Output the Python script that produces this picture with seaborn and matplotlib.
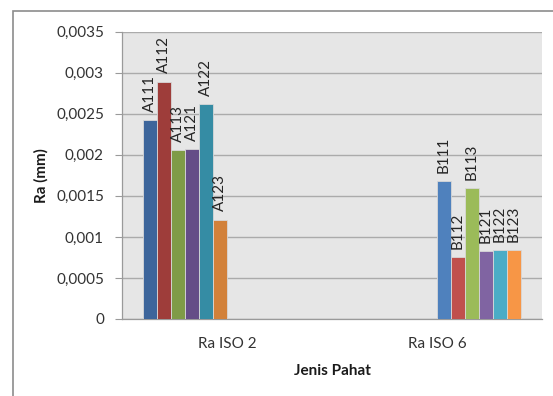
import matplotlib
matplotlib.use("Agg")
import matplotlib.pyplot as plt
from matplotlib.patches import Rectangle
import seaborn as sns
import pandas as pd

# Surface roughness per tool code, grouped by tool type
categories = ["Ra ISO 2", "Ra ISO 6"]
series = ["A111", "A112", "A113", "A121", "A122", "A123",
          "B111", "B112", "B113", "B121", "B122", "B123"]
series_category = ["Ra ISO 2"] * 6 + ["Ra ISO 6"] * 6
ra_values = [0.00242, 0.00289, 0.00206, 0.00207, 0.00262, 0.00121,
             0.00168, 0.00075, 0.00159, 0.00083, 0.00084, 0.00084]
ytick_values = [0, 0.0005, 0.001, 0.0015, 0.002, 0.0025, 0.003, 0.0035]
ytick_labels = ["0", "0,0005", "0,001", "0,0015", "0,002", "0,0025", "0,003", "0,0035"]
colors = ["#3D659B", "#9E3D3A", "#7F9B47", "#654D87", "#358CA4", "#D2813A",
          "#4F81BD", "#C0504D", "#9BBB59", "#8064A2", "#4BACC6", "#F79646"]

df = pd.DataFrame({"Jenis Pahat": series_category, "Kode": series, "Ra": ra_values})

sns.set_theme(style="white")
plt.rcParams["font.family"] = ["Lato", "DejaVu Sans"]
FS = 11

fig = plt.figure(figsize=(5.53, 3.96), dpi=100)
ax = fig.add_axes([122 / 553, 1 - 319 / 396, 420 / 553, (319 - 31.7) / 396])
ax.set_facecolor("#E6E6E6")

sns.barplot(data=df, x="Jenis Pahat", y="Ra", hue="Kode", hue_order=series,
            order=categories, palette=colors, saturation=1, width=0.8, dodge=True,
            edgecolor="#D8D8D8", linewidth=0.6, errorbar=None, legend=False, ax=ax,
            zorder=3)

# Vertical code label above each bar
for container, name in zip(ax.containers, series):
    labels = [name if bar.get_height() > 0 else "" for bar in container]
    ax.bar_label(container, labels=labels, rotation=90, padding=6,
                 fontsize=FS, color="#262626")

ax.set_ylim(0, 0.0035)
ax.set_xlim(-0.5, 1.5)
ax.set_yticks(ytick_values)
ax.set_yticklabels(ytick_labels, fontsize=FS, color="#333333")
ax.tick_params(axis="x", labelsize=FS, colors="#333333", length=0, pad=13)
ax.tick_params(axis="y", length=5, width=0.8, color="#9A9A9A", pad=8, left=True)
ax.yaxis.grid(True, color="#ABABAB", linewidth=1.0, zorder=0)
ax.set_axisbelow(True)

for side in ["top", "right"]:
    ax.spines[side].set_visible(False)
for side in ["left", "bottom"]:
    ax.spines[side].set_color("#9A9A9A")
    ax.spines[side].set_linewidth(0.9)

ax.set_xlabel("Jenis Pahat", fontsize=FS, fontweight="bold", color="#1A1A1A", labelpad=9)
ax.set_ylabel("Ra (mm)", fontsize=FS, fontweight="bold", color="#1A1A1A")
ax.yaxis.set_label_coords(-0.175, 0.5)

# Chart frame
fig.patches.append(Rectangle((13 / 553, -0.05), 1.2, 1 - 11 / 396 + 0.05,
                             transform=fig.transFigure, fill=False,
                             edgecolor="#8C8C8C", linewidth=1.2, zorder=0))

fig.savefig("out.png", dpi=100, facecolor="white")
